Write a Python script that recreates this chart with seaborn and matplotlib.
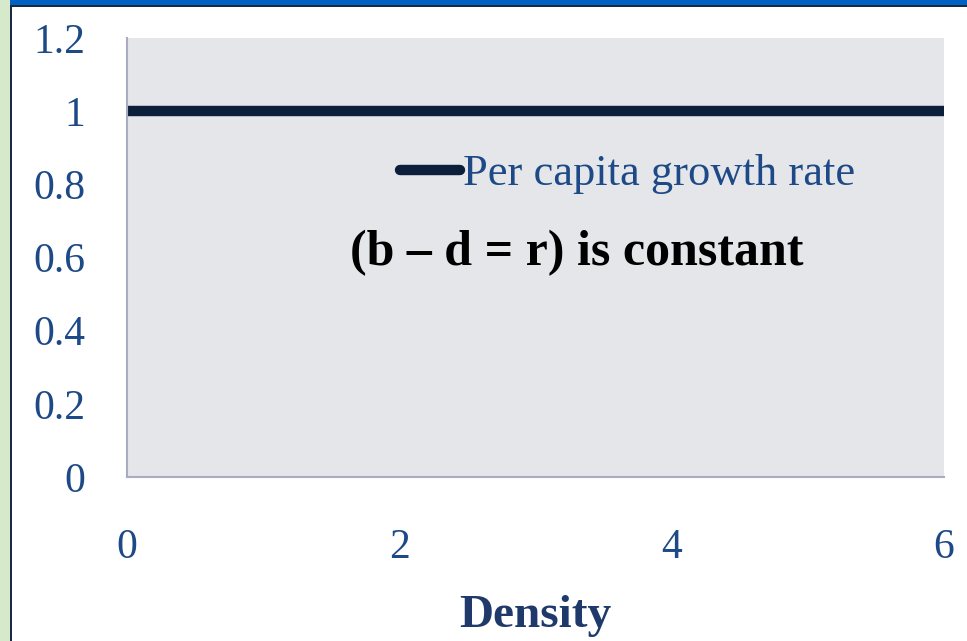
import matplotlib
matplotlib.use("Agg")
import matplotlib.pyplot as plt
from matplotlib.patches import Rectangle
import pandas as pd
import seaborn as sns

# data: per capita growth rate is constant over density
density = [0, 1, 2, 3, 4, 5, 6]
growth_rate = [1, 1, 1, 1, 1, 1, 1]
y_ticks = [0, 0.2, 0.4, 0.6, 0.8, 1, 1.2]
y_labels = ["0", "0.2", "0.4", "0.6", "0.8", "1", "1.2"]
x_ticks = [0, 2, 4, 6]
x_labels = ["0", "2", "4", "6"]

df = pd.DataFrame({"Density": density, "rate": growth_rate})

sns.set_style("white", {"axes.facecolor": "#e5e6ea"})
plt.rcParams["font.family"] = ["Liberation Serif", "DejaVu Serif"]

fig = plt.figure(figsize=(9.67, 6.41), dpi=100)
ax = fig.add_axes([0.1313, 0.2559, 0.8449, 0.6848])

sns.lineplot(data=df, x="Density", y="rate", ax=ax, color="#0b1f3a",
             linewidth=7.5, solid_capstyle="butt", clip_on=False,
             label="Per capita growth rate")

ax.set_xlim(0, 6)
ax.set_ylim(0, 1.2)
ax.set_xticks(x_ticks)
ax.set_xticklabels(x_labels)
ax.set_yticks(y_ticks)
ax.set_yticklabels(y_labels)
ax.tick_params(axis="both", length=0, labelsize=30, colors="#1d4a86")
ax.tick_params(axis="x", pad=37)
ax.tick_params(axis="y", pad=30)
ax.set_ylabel("")
ax.set_xlabel("Density", fontsize=34, fontweight="bold", color="#1f3a6a", labelpad=20)

for s in ["top", "right"]:
    ax.spines[s].set_visible(False)
for s in ["left", "bottom"]:
    ax.spines[s].set_color("#a9abc2")
    ax.spines[s].set_linewidth(1.5)

leg = ax.legend(loc="center left", bbox_to_anchor=(0.334, 0.69), frameon=False,
                fontsize=32, handlelength=1.36, handletextpad=0.07,
                borderpad=0, borderaxespad=0)
for t in leg.get_texts():
    t.set_color("#1d4a86")
for h in leg.get_lines():
    h.set_solid_capstyle("round")

ax.text(0.273, 0.51, "(b \u2013 d = r) is constant", transform=ax.transAxes,
        fontsize=36, fontweight="bold", color="black", va="center", ha="left")

# slide frame: blue top bar and green left strip
fig.add_artist(Rectangle((0, 0.9915), 1, 0.0085, transform=fig.transFigure,
                         facecolor="#0062c4", edgecolor="none"))
fig.add_artist(Rectangle((0, 0.9895), 1, 0.002, transform=fig.transFigure,
                         facecolor="#1a2a40", edgecolor="none"))
fig.add_artist(Rectangle((0, 0), 0.0105, 1, transform=fig.transFigure,
                         facecolor="#d6e9cb", edgecolor="none"))
fig.add_artist(Rectangle((0.0105, 0), 0.0018, 0.99, transform=fig.transFigure,
                         facecolor="#1a2a40", edgecolor="none"))

fig.savefig("out.png", dpi=100)
